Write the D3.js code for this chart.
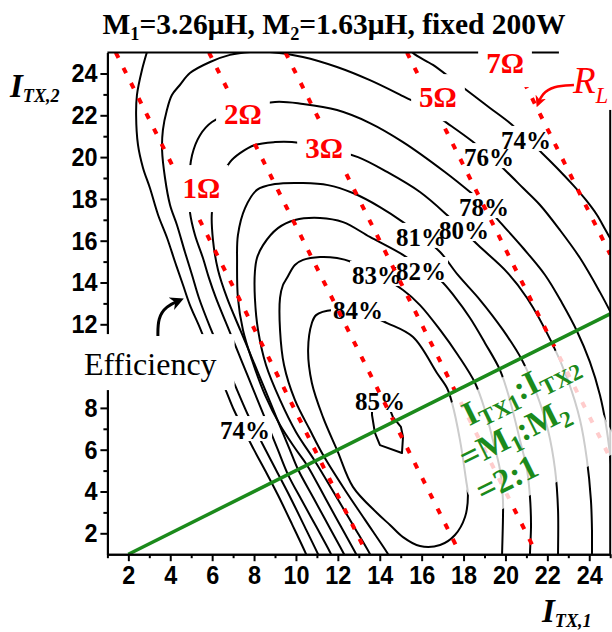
<!DOCTYPE html>
<html><head><meta charset="utf-8">
<script src="https://cdn.jsdelivr.net/npm/d3@7"></script>
<style>body{margin:0;background:#fff}svg{display:block}</style>
</head><body>
<svg id="c" width="612" height="632"></svg>
<script>
// ---------------- data ----------------
const xTicks=[2,4,6,8,10,12,14,16,18,20,22,24];
const yTicks=[2,4,6,8,10,12,14,16,18,20,22,24];
const yTicksHidden=[10]; // covered by the "Efficiency" note in the original
const xMinor=[1,3,5,7,9,11,13,15,17,19,21,23,25];
const yMinor=[3,5,7,9,11,13,15,17,19,21,23];

// efficiency contour lines (I_TX,1 , I_TX,2)
const eff74Left=[[2.94,25.2],[2.65,24.17],[2.41,22.97],[2.37,22.01],[2.46,20.58],[2.70,19.48],[3.03,18.52],[3.42,17.23],[3.85,16.13],[4.23,14.98],[4.61,13.88],[4.94,12.92],[5.42,11.82],[5.99,10.39],[6.61,8.95],[7.04,7.90],[7.52,6.94],[8.00,5.99],[8.57,4.93],[9.14,3.83],[9.81,2.44],[10.48,1.01],[10.56,0.8]];
const eff74Right=[[15.44,25.22],[15.59,24.98],[16.54,24.41],[17.50,23.69],[18.45,22.97],[19.26,22.35],[20.21,21.63],[20.98,20.91],[21.74,20.20],[22.46,19.48],[23.22,18.67],[23.84,17.95],[24.37,17.23],[24.75,16.56],[25.18,15.79]];
const eff76=[[11.12,0.85],[11.05,1.01],[10.38,2.39],[9.72,3.74],[9.05,5.03],[8.38,6.32],[7.71,7.66],[7.09,9.09],[6.47,10.53],[5.90,11.87],[5.37,13.26],[5.04,14.36],[4.70,15.46],[4.32,16.75],[3.99,17.71],[3.75,19.0],[3.61,20.34],[3.65,21.30],[3.84,22.25],[4.08,22.97],[4.46,23.45],[4.94,24.02],[5.90,24.55],[6.85,24.89],[7.81,25.03],[8.76,25.03],[10.33,24.79],[11.96,24.31],[13.53,23.68],[15.20,22.87],[16.16,22.39],[17.02,21.77],[18.40,20.77],[19.26,20.05],[20.07,19.29],[20.84,18.52],[21.65,17.71],[22.60,16.51],[23.56,15.17],[24.51,13.54],[25.09,12.44]];
const eff78=[[11.73,0.85],[11.67,1.01],[10.98,2.30],[10.27,3.59],[9.62,4.81],[9.14,5.99],[8.56,7.42],[7.97,8.86],[7.39,10.29],[6.80,11.73],[6.18,13.26],[5.85,14.21],[5.56,15.17],[5.18,16.27],[4.94,17.37],[4.89,18.66],[5.04,20.09],[5.42,21.05],[5.99,21.68],[7.33,22.25],[9.0,22.64],[10.34,22.54],[11.96,22.25],[13.53,21.63],[15.11,20.72],[17.11,19.29],[18.31,18.33],[19.02,17.71],[19.74,16.89],[20.84,15.65],[21.89,14.36],[22.70,13.02],[23.41,11.68],[24.03,10.20],[24.51,8.62],[24.80,7.18],[24.99,5.75],[25.13,4.31]];
const eff80=[[12.36,0.85],[12.29,1.01],[11.59,2.30],[10.89,3.59],[10.10,5.05],[9.71,5.99],[9.12,7.42],[8.53,8.86],[7.94,10.29],[7.34,11.73],[6.71,13.26],[6.28,14.60],[6.04,16.03],[5.99,17.37],[6.28,18.66],[6.85,19.76],[7.33,20.19],[8.04,20.58],[9.0,20.72],[9.81,20.72],[11.39,20.44],[12.96,20.0],[14.35,19.29],[15.92,18.33],[17.21,17.23],[18.69,15.79],[20.07,14.50],[21.03,13.26],[22.22,11.11],[22.98,9.33],[23.56,7.42],[23.89,5.51],[24.08,3.59],[24.13,2.15],[24.13,1.01],[24.13,0.85]];
const eff81=[[12.95,0.85],[12.87,1.01],[12.16,2.30],[11.45,3.59],[10.53,5.26],[9.95,6.08],[9.24,7.18],[8.52,8.62],[7.90,10.29],[7.47,11.73],[7.23,13.26],[7.19,14.98],[7.23,16.27],[7.57,17.56],[8.14,18.43],[9.0,18.71],[10.34,18.76],[11.53,18.66],[12.72,18.28],[14.01,17.61],[15.11,16.89],[15.97,16.22],[16.88,15.46],[17.73,14.36],[18.79,13.16],[19.88,11.73],[20.79,10.29],[21.51,8.62],[22.03,6.94],[22.37,5.03],[22.51,3.11],[22.51,1.01],[22.51,0.85]];
const eff82=[[13.6,0.85],[13.53,1.01],[12.78,2.30],[12.02,3.59],[10.91,5.45],[10.0,6.85],[9.24,8.38],[8.57,10.05],[8.19,11.73],[8.04,13.26],[8.04,14.50],[8.14,15.17],[8.43,15.79],[9.14,16.60],[9.95,16.99],[11.15,17.09],[12.25,16.89],[13.53,16.18],[15.11,15.32],[15.97,14.69],[16.88,14.12],[17.59,13.30],[18.31,12.30],[19.02,11.11],[19.74,9.81],[20.21,8.38],[20.69,6.46],[21.03,5.03],[21.17,3.74],[21.22,2.40],[21.17,1.01],[21.17,0.85]];
const eff83=[[14.47,0.85],[14.39,1.01],[13.30,2.64],[12.34,4.07],[11.34,5.67],[10.67,6.94],[9.95,8.38],[9.43,10.05],[9.24,11.73],[9.24,13.26],[9.38,13.88],[9.57,14.21],[9.95,14.84],[10.34,15.08],[11.15,15.22],[11.96,15.17],[12.67,14.98],[13.92,14.36],[15.11,13.64],[15.92,12.92],[16.88,11.73],[17.73,10.53],[18.55,9.19],[19.02,7.90],[19.40,6.46],[19.74,5.03],[19.88,3.59],[19.88,2.64],[19.84,1.01],[19.84,0.85]];
const eff84=[[11.77,12.68],[13.06,12.58],[14.35,12.06],[15.59,11.39],[16.73,9.67],[17.21,8.95],[17.45,8.24],[17.83,6.46],[18.12,4.55],[18.21,3.83],[18.07,2.78],[17.59,1.92],[16.88,1.44],[15.92,1.39],[15.11,1.82],[14.49,2.40],[13.87,2.97],[12.72,4.22],[11.96,5.99],[11.29,7.56],[10.76,9.19],[10.58,10.77],[10.76,12.06],[10.96,12.44]];
const eff85=[[13.63,8.14],[13.63,7.66],[13.77,6.80],[14.01,6.22],[15.06,5.84],[15.11,6.61],[15.01,7.09],[14.63,7.56],[14.40,8.14]];

// contour labels
const effLabels=["74%","76%","78%","80%","81%","82%","83%","84%","85%","74%"];
const effLabelAt=[[20.98,20.39],[19.21,19.57],[18.98,17.18],[18.02,16.08],[15.97,15.75],[15.97,14.12],[13.87,13.93],[12.96,12.25],[14.01,7.90],[7.57,6.51]];

// constant load-resistance lines (2·I1 + I2 = const)
const rlLabels=["1Ω","2Ω","3Ω","5Ω","7Ω"];
const rlFrom=[[1.4,25],[5.85,25],[9.5,25],[15.3,25],[20.18,25]];
const rlTo=[[13.4,1],[17.85,1],[21.5,1],[25,5.6],[25,15.35]];
const rlLabelAt=[[5.49,18.04],[7.47,21.58],[11.34,19.96],[16.78,22.39],[19.98,24.02]];

// current ratio line I1:I2 = 2:1
const ratioLine=[[2,1],[25,12.5]];
const ratioTextAt=[18.31,7.04];

// annotation anchors
const effWordAt=[-0.12,9.57];
const effArrow=[[3.41,11.44],[3.41,12.30],[3.80,12.87],[4.47,13.16]];
const rlWordAt=[23.22,23.07];
const rlArrow=[[23.27,23.45],[22.27,23.40],[21.74,23.02],[21.55,22.54]];

// ---------------- drawing ----------------
const serif="'Liberation Serif','Times New Roman',serif";
const sans="'Liberation Sans',Arial,sans-serif";
const GREEN="#1b8a1b";
const svg=d3.select("#c");
const x=d3.scaleLinear().domain([1,25]).range([107.4,610.2]);
const y=d3.scaleLinear().domain([1,25]).range([554.2,52.6]);

const defs=svg.append("defs");
defs.append("clipPath").attr("id","plot").append("rect")
  .attr("x",x(1)).attr("y",y(25)).attr("width",x(25)-x(1)).attr("height",y(1)-y(25));
function marker(id,color){
  defs.append("marker").attr("id",id).attr("viewBox","0 0 10 10").attr("refX",7).attr("refY",5)
   .attr("markerWidth",4.5).attr("markerHeight",4.5).attr("orient","auto")
   .append("path").attr("d","M0,0 L10,5 L0,10 L3,5 Z").attr("fill",color);
}
marker("ahK","#000"); marker("ahR","#ff0000");

const line=d3.line().x(d=>x(d[0])).y(d=>y(d[1])).curve(d3.curveCatmullRom.alpha(0.5));
const lineClosed=d3.line().x(d=>x(d[0])).y(d=>y(d[1])).curve(d3.curveCatmullRomClosed.alpha(0.5));
const lineLinClosed=d3.line().x(d=>x(d[0])).y(d=>y(d[1])).curve(d3.curveLinearClosed);
const lineBasis=d3.line().x(d=>x(d[0])).y(d=>y(d[1])).curve(d3.curveBasis);

// contours
const gC=svg.append("g").attr("clip-path","url(#plot)").attr("fill","none").attr("stroke","#000").attr("stroke-width",2);
[eff74Left,eff74Right,eff76,eff78,eff80,eff81,eff82,eff83].forEach(p=>gC.append("path").attr("d",line(p)));
gC.append("path").attr("d",lineClosed(eff84));
gC.append("path").attr("d",lineLinClosed(eff85)).attr("stroke-linejoin","round");

function richText(g,parts,opts){
  const t=g.append("text").attr("x",opts.x).attr("y",opts.y).attr("text-anchor",opts.anchor||"start")
    .style("font-family",opts.family).style("font-size",opts.size+"px")
    .style("font-weight",opts.weight||"normal").style("font-style",opts.style||"normal").attr("fill",opts.fill||"#000");
  let shifted=0;
  parts.forEach(([s,sub])=>{
    const ts=t.append("tspan").text(s);
    if(sub){ts.style("font-size",(opts.subScale||0.62)*opts.size+"px"); const d=opts.subDy||opts.size*0.22; ts.attr("dy",d-shifted); shifted=d;}
    else if(shifted){ts.attr("dy",-shifted); shifted=0;}
  });
  return t;
}
function boxBehind(gBox,textNode,pads,fill,opacity){
  const b=textNode.node().getBBox();
  gBox.append("rect").attr("x",b.x-pads[0]).attr("y",b.y-pads[1])
    .attr("width",b.width+pads[0]+pads[2]).attr("height",b.height+pads[1]+pads[3])
    .attr("fill",fill||"#fff").attr("opacity",opacity==null?1:opacity);
}
// contour labels with white gaps
const gLB=svg.append("g"), gLT=svg.append("g");
effLabels.forEach((s,i)=>{
  const t=richText(gLT,[[s,false]],{x:x(effLabelAt[i][0]),y:y(effLabelAt[i][1]),anchor:"middle",family:serif,size:25,weight:"bold"});
  boxBehind(gLB,t,[2,1,2,-3]);
});

// RL dotted lines
const gR=svg.append("g").attr("clip-path","url(#plot)");
rlLabels.forEach((s,i)=>{
  gR.append("path").attr("d",d3.line().x(d=>x(d[0])).y(d=>y(d[1]))([rlFrom[i],rlTo[i]]))
    .attr("stroke","#ff0000").attr("stroke-width",4).attr("stroke-dasharray","6 11").attr("fill","none");
});

// ratio line
svg.append("g").attr("clip-path","url(#plot)").append("path")
  .attr("d",d3.line().x(d=>x(d[0])).y(d=>y(d[1]))(ratioLine))
  .attr("stroke",GREEN).attr("stroke-width",3.5).attr("fill","none");

// axes
const gA=svg.append("g");
gA.append("g").attr("transform",`translate(0,${y(1)})`)
  .call(d3.axisBottom(x).tickValues(xTicks).tickSize(7).tickSizeOuter(0).tickPadding(4).tickFormat(d3.format("d")));
gA.append("g").attr("transform",`translate(0,${y(1)})`)
  .call(d3.axisBottom(x).tickValues(xMinor).tickSize(4).tickSizeOuter(0).tickFormat(""));
gA.append("g").attr("transform",`translate(${x(1)},0)`)
  .call(d3.axisLeft(y).tickValues(yTicks).tickSize(7).tickSizeOuter(0).tickPadding(3)
    .tickFormat(d=>yTicksHidden.includes(d)?"":d3.format("d")(d)));
gA.append("g").attr("transform",`translate(${x(1)},0)`)
  .call(d3.axisLeft(y).tickValues(yMinor).tickSize(4).tickSizeOuter(0).tickFormat(""));
gA.selectAll("path.domain,line").attr("stroke","#000").attr("stroke-width",2);
gA.selectAll("text").attr("fill","#000").style("font-family",sans).style("font-weight","bold").style("font-size","26px")
  .each(function(){const L=this.getComputedTextLength(); if(L>0){d3.select(this).attr("textLength",L*0.9).attr("lengthAdjust","spacingAndGlyphs");}});
gA.append("line").attr("x1",x(1)).attr("x2",x(25)).attr("y1",y(25)).attr("y2",y(25)).attr("stroke","#000").attr("stroke-width",2);
gA.append("line").attr("x1",x(25)).attr("x2",x(25)).attr("y1",y(25)).attr("y2",y(1)).attr("stroke","#000").attr("stroke-width",2);

// ratio annotation with translucent box
const ang=Math.atan2(y(ratioLine[1][1])-y(ratioLine[0][1]),x(ratioLine[1][0])-x(ratioLine[0][0]))*180/Math.PI;
const gT=svg.append("g").attr("transform",`translate(${x(ratioTextAt[0])},${y(ratioTextAt[1])}) rotate(${ang})`);
gT.append("rect").attr("x",-31).attr("y",-31).attr("width",156).attr("height",118).attr("fill","#fff").attr("opacity",0.8);
const gopt={family:serif,size:34,weight:"bold",fill:GREEN,subScale:0.68,subDy:7};
richText(gT,[["I",false],["TX1",true],[":I",false],["TX2",true]],Object.assign({x:0,y:-2},gopt));
richText(gT,[["=M",false],["1",true],[":M",false],["2",true]],Object.assign({x:-22,y:36},gopt));
richText(gT,[["=2:1",false]],Object.assign({x:-22,y:73},gopt));

// RL labels
const gOB=svg.append("g"), gOT=svg.append("g");
rlLabels.forEach((s,i)=>{
  const t=richText(gOT,[[s,false]],{x:x(rlLabelAt[i][0]),y:y(rlLabelAt[i][1]),anchor:"middle",family:serif,size:29,weight:"bold",fill:"#ff0000"});
  boxBehind(gOB,t,[8,7,8,8]);
});
const rlT=richText(gOT,[["R",false],["L",true]],{x:x(rlWordAt[0]),y:y(rlWordAt[1]),family:serif,size:37,style:"italic",fill:"#ff0000",subScale:0.62,subDy:10});
boxBehind(gOB,rlT,[13,14,20,2]);
gOT.append("path").attr("d",lineBasis(rlArrow)).attr("fill","none").attr("stroke","#ff0000").attr("stroke-width",2.5).attr("marker-end","url(#ahR)");

// Efficiency label + arrow
const effT=richText(gOT,[["Efficiency",false]],{x:x(effWordAt[0]),y:y(effWordAt[1]),family:serif,size:32});
boxBehind(gOB,effT,[16,12,18,8]);
gOT.append("path").attr("d",lineBasis(effArrow)).attr("fill","none").attr("stroke","#000").attr("stroke-width",3).attr("marker-end","url(#ahK)");

// title & axis titles
richText(svg,[["M",false],["1",true],["=3.26μH, M",false],["2",true],["=1.63μH, fixed 200W",false]],{x:334,y:34,anchor:"middle",family:serif,size:29.5,weight:"bold",subScale:0.62,subDy:6});
richText(svg,[["I",false],["TX,2",true]],{x:10,y:97,family:serif,size:33,weight:"bold",style:"italic",subScale:0.55,subDy:5});
richText(svg,[["I",false],["TX,1",true]],{x:542,y:622,family:serif,size:33,weight:"bold",style:"italic",subScale:0.55,subDy:5});
</script>
</body></html>
